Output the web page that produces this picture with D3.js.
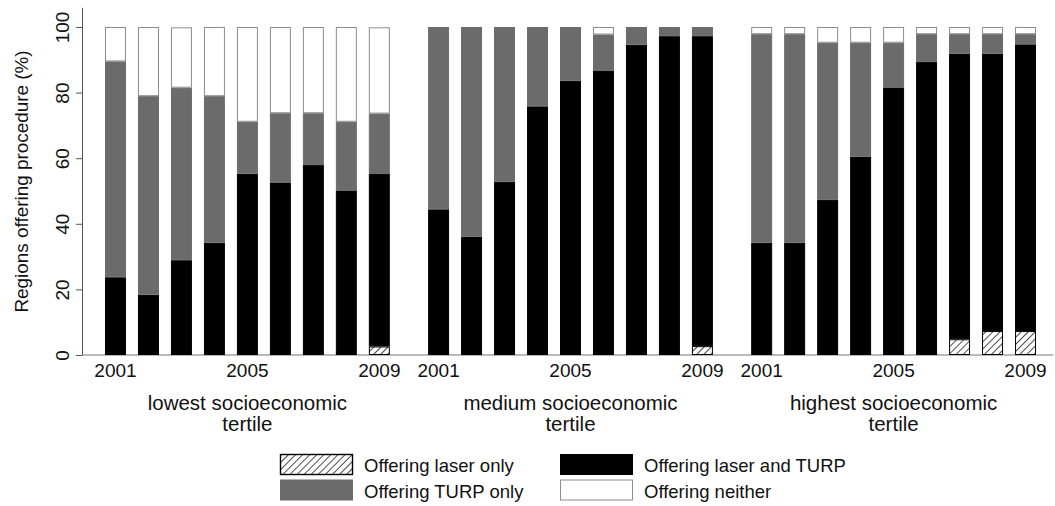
<!DOCTYPE html>
<html>
<head>
<meta charset="utf-8">
<script src="https://cdn.jsdelivr.net/npm/d3@7"></script>
<style>
  body { margin: 0; background: #fff; }
  svg { display: block; font-family: "Liberation Sans", Arial, sans-serif; }
</style>
</head>
<body>
<svg id="chart" width="1055" height="506"></svg>
<script>
// years and tertiles
const years = [2001, 2002, 2003, 2004, 2005, 2006, 2007, 2008, 2009];
const yearTicks = [2001, 2005, 2009];
const tertiles = ["lowest socioeconomic tertile", "medium socioeconomic tertile", "highest socioeconomic tertile"];
const yTicks = [0, 20, 40, 60, 80, 100];

// percent of regions, one row per tertile (lowest, medium, highest)
const laserOnly = [
  [0, 0, 0, 0, 0, 0, 0, 0, 2.6],
  [0, 0, 0, 0, 0, 0, 0, 0, 2.7],
  [0, 0, 0, 0, 0, 0, 4.8, 7.3, 7.3]
];
const laserAndTurp = [
  [23.7, 18.4, 28.9, 34.2, 55.3, 52.6, 57.9, 50.0, 52.6],
  [44.4, 36.1, 52.8, 75.8, 83.6, 86.6, 94.6, 97.2, 94.5],
  [34.2, 34.2, 47.3, 60.5, 81.4, 89.3, 87.1, 84.6, 87.4]
];
const turpOnly = [
  [65.8, 60.5, 52.6, 44.7, 15.8, 21.1, 15.8, 21.1, 18.4],
  [55.6, 63.9, 47.2, 24.2, 16.4, 11.1, 5.4, 2.8, 2.8],
  [63.6, 63.6, 47.9, 34.7, 13.8, 8.5, 5.9, 5.9, 3.1]
];
const neither = [
  [10.5, 21.1, 18.4, 21.1, 28.9, 26.3, 26.3, 28.9, 26.3],
  [0, 0, 0, 0, 0, 2.3, 0, 0, 0],
  [2.2, 2.2, 4.8, 4.8, 4.8, 2.2, 2.2, 2.2, 2.2]
];

const keys = ["laser", "both", "turp", "neither"];
const legendLabels = ["Offering laser only", "Offering laser and TURP", "Offering TURP only", "Offering neither"];
const fills = {laser: "url(#hatch)", both: "#000", turp: "#6b6b6b", neither: "#fff"};
const strokes = {laser: "#000", both: "#000", turp: "#6b6b6b", neither: "#8c8c8c"};

const svg = d3.select("#chart");

// hatch pattern for "laser only"
svg.append("defs").append("pattern")
    .attr("id", "hatch")
    .attr("patternUnits", "userSpaceOnUse")
    .attr("width", 5)
    .attr("height", 5)
    .attr("patternTransform", "rotate(45)")
  .call(p => {
    p.append("rect").attr("width", 5).attr("height", 5).attr("fill", "#fff");
    p.append("line").attr("x1", 0).attr("y1", 0).attr("x2", 0).attr("y2", 5)
      .attr("stroke", "#000").attr("stroke-width", 1.4);
  });

const axisX = 82, baseY = 355;

const y = d3.scaleLinear().domain([0, 106]).range([baseY, 7.3]);

const xGroup = d3.scaleBand()
    .domain(tertiles)
    .range([105, 1036])
    .paddingInner(0.1185)
    .paddingOuter(0);

const xYear = d3.scaleBand()
    .domain(years)
    .range([0, xGroup.bandwidth()])
    .paddingInner(0.364)
    .paddingOuter(0);

// y axis
const yAxis = svg.append("g")
    .attr("transform", `translate(${axisX},0)`)
    .call(d3.axisLeft(y).tickValues(yTicks).tickSize(6).tickSizeOuter(0));
yAxis.select(".domain").attr("stroke", "#555");
yAxis.selectAll(".tick line").attr("stroke", "#555");
yAxis.selectAll(".tick text")
    .attr("x", 0)
    .attr("y", -13)
    .attr("dy", 0)
    .attr("transform", "rotate(-90)")
    .style("text-anchor", "middle")
    .style("font-size", "19px")
    .attr("fill", "#111");

svg.append("text")
    .attr("transform", "rotate(-90)")
    .attr("x", -181.5)
    .attr("y", 27.5)
    .attr("text-anchor", "middle")
    .style("font-size", "18.9px")
    .attr("fill", "#111")
    .text("Regions offering procedure (%)");

// baseline
svg.append("line")
    .attr("x1", axisX).attr("x2", 1053)
    .attr("y1", baseY).attr("y2", baseY)
    .attr("stroke", "#777").attr("stroke-width", 1.2);

const stack = d3.stack().keys(keys);

tertiles.forEach((t, ti) => {
  const rows = years.map((yr, i) => ({
    year: yr,
    laser: laserOnly[ti][i],
    both: laserAndTurp[ti][i],
    turp: turpOnly[ti][i],
    neither: neither[ti][i]
  }));
  const series = stack(rows);

  const g = svg.append("g")
      .attr("transform", `translate(${xGroup(t)},0)`);

  g.selectAll("g.series")
    .data(series)
    .join("g")
      .attr("class", "series")
      .attr("fill", d => fills[d.key])
      .attr("stroke", d => strokes[d.key])
    .selectAll("rect")
    .data(d => d.filter(s => s[1] - s[0] > 0))
    .join("rect")
      .attr("x", d => xYear(d.data.year) + 0.5)
      .attr("y", d => y(d[1]) + 0.5)
      .attr("width", xYear.bandwidth() - 1)
      .attr("height", d => Math.max(0, y(d[0]) - y(d[1]) - 1))
      .attr("stroke-width", 1);

  // year labels
  const xa = g.append("g")
      .attr("transform", `translate(0,${baseY})`)
      .call(d3.axisBottom(xYear).tickValues(yearTicks).tickSize(0).tickPadding(8.5));
  xa.select(".domain").remove();
  xa.selectAll("text").style("font-size", "19px").attr("fill", "#111");

  // tertile caption
  const words = t.split(" ");
  const cap = g.append("text")
      .attr("text-anchor", "middle")
      .style("font-size", "20.5px")
      .attr("fill", "#111");
  cap.append("tspan").attr("x", xGroup.bandwidth() / 2).attr("y", 410)
      .text(words.slice(0, 2).join(" "));
  cap.append("tspan").attr("x", xGroup.bandwidth() / 2).attr("y", 431)
      .text(words[2]);
});

// legend
const legendPos = [
  {x: 280, y: 454}, {x: 560, y: 454},
  {x: 280, y: 479.5}, {x: 560, y: 479.5}
];
const legend = svg.append("g");
keys.forEach((k, i) => {
  const p = legendPos[i];
  legend.append("rect")
      .attr("x", p.x + 0.5).attr("y", p.y + 0.5)
      .attr("width", 72).attr("height", 20)
      .attr("fill", fills[k])
      .attr("stroke", strokes[k])
      .attr("stroke-width", k === "laser" ? 1.4 : 1);
  legend.append("text")
      .attr("x", p.x + 84)
      .attr("y", p.y + 18)
      .style("font-size", "18.5px")
      .attr("fill", "#111")
      .text(legendLabels[i]);
});
</script>
</body>
</html>
